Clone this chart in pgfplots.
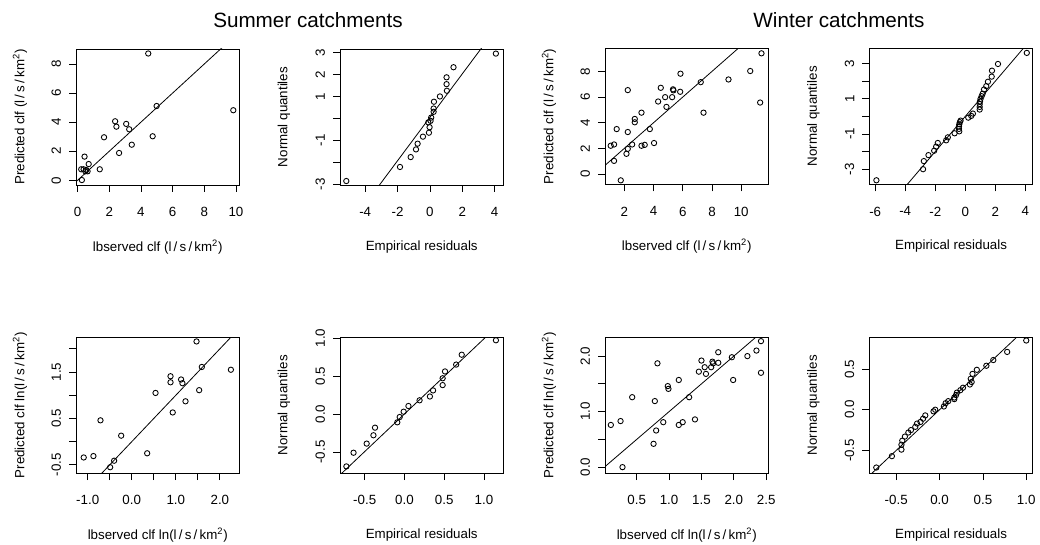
\documentclass[border=0pt]{standalone}
\usepackage{fontspec}
\setmainfont{Liberation Sans}
\usepackage{pgfplots}
\pgfplotsset{compat=1.18}
\pgfplotsset{
 rpanel/.style={
  scale only axis, width=122.6pt, height=102pt,
  anchor=south west,
  tick align=outside, xtick pos=bottom, ytick pos=left,
  major tick length=5.25pt,
  axis line style={line width=0.6pt},
  every tick/.style={line width=0.6pt, black},
  font=\fontsize{10}{12}\selectfont,
  ticklabel style={font=\fontsize{10}{12}\selectfont},
  yticklabel style={rotate=90, anchor=south},
  xticklabel style={anchor=north},
  xticklabel shift=8pt,
  yticklabel shift=2.5pt,
  xlabel style={at={(axis description cs:0.5,-0.454)}, anchor=center},
  ylabel style={at={(axis description cs:-0.3426,0.5)}, anchor=center},
 },
 pts/.style={only marks, mark=o, mark size=2pt, mark options={line width=0.65pt, solid}, black},
 refl/.style={no marks, black, line width=0.6pt},
}
\begin{document}
\begin{tikzpicture}
\path[use as bounding box] (0,0) rectangle (780pt,408.75pt);
\node[font=\fontsize{15.5}{18}\selectfont] at (231pt,393.75pt) {Summer catchments};
\node[font=\fontsize{15.5}{18}\selectfont] at (629.25pt,393.75pt) {Winter catchments};
% P1
\begin{axis}[rpanel, at={(57pt,270pt)},
 xmin=-0.1, xmax=10.22, ymin=-0.32, ymax=9.03,
 xtick={0,2,4,6,8,10}, xticklabels={0,2,4,6,8,10},
 ytick={0,2,4,6,8}, yticklabels={0,2,4,6,8},
 xlabel={lbserved clf (l\,/\,s\,/\,km\textsuperscript{2})},
 ylabel={Predicted clf (l\,/\,s\,/\,km\textsuperscript{2})}]
\addplot[pts] coordinates {(4.46,8.72)(9.83,4.82)(4.99,5.11)(2.37,4.06)(2.45,3.69)(3.07,3.88)(3.26,3.51)(1.67,2.96)(4.74,3.03)(3.42,2.45)(2.62,1.88)(0.44,1.63)(0.70,1.12)(1.40,0.76)(0.23,0.76)(0.38,0.76)(0.49,0.62)(0.63,0.62)(0.55,0.71)(0.27,0.02)};
\addplot[refl] coordinates {(-20,-20)(20,20)};
\end{axis}
% P2
\begin{axis}[rpanel, at={(255pt,270pt)},
 xmin=-5.56, xmax=4.55, ymin=-3.03, ymax=3.16,
 xtick={-4,-2,0,2,4}, xticklabels={-4,-2,0,2,4},
 ytick={-3,-2,-1,0,1,2,3}, yticklabels={-3,,-1,,1,2,3},
 xlabel={Empirical residuals}, ylabel={Normal quantiles}]
\addplot[pts] coordinates {(-5.17,-2.85)(-1.85,-2.21)(-1.19,-1.76)(-0.86,-1.41)(-0.76,-1.15)(-0.43,-0.83)(-0.06,-0.65)(-0.02,-0.40)(-0.10,-0.18)(0.04,-0.11)(0.08,0.04)(0.23,0.30)(0.23,0.45)(0.25,0.76)(0.62,1.00)(1.05,1.26)(1.03,1.56)(1.03,1.87)(1.46,2.33)(4.08,2.95)};
\addplot[refl] coordinates {(-20,-19.7)(20,19.8)};
\end{axis}
% P3
\begin{axis}[rpanel, at={(453.75pt,270.5pt)},
 xmin=0.67, xmax=11.87, ymin=-0.81, ymax=9.80,
 xtick={2,4,6,8,10}, xticklabels={2,4,6,8,10},
 ytick={0,2,4,6,8}, yticklabels={0,2,4,6,8},
 xlabel={lbserved clf (l\,/\,s\,/\,km\textsuperscript{2})},
 ylabel={Predicted clf (l\,/\,s\,/\,km\textsuperscript{2})}]
\addplot[pts] coordinates {(11.39,9.41)(10.62,8.03)(9.13,7.37)(7.23,7.16)(5.84,7.82)(11.30,5.57)(7.42,4.78)(4.49,6.72)(5.33,6.60)(5.36,6.52)(5.82,6.41)(4.79,5.99)(5.27,5.99)(4.31,5.65)(4.88,5.23)(2.23,6.54)(3.17,4.78)(2.71,4.29)(2.71,4.03)(3.74,3.50)(1.47,3.50)(2.23,3.27)(4.03,2.41)(3.17,2.20)(3.39,2.27)(2.53,2.30)(2.23,1.96)(2.14,1.57)(1.06,2.20)(1.29,2.30)(1.29,1.02)(1.75,-0.50)};
\addplot[refl] coordinates {(-20,-20)(20,20)};
\end{axis}
% P4
\begin{axis}[rpanel, at={(652pt,270.5pt)},
 xmin=-6.39, xmax=4.50, ymin=-3.86, ymax=3.87,
 xtick={-6,-4,-2,0,2,4}, xticklabels={-6,-4,-2,0,2,4},
 ytick={-3,-2,-1,0,1,2,3}, yticklabels={-3,,-1,,1,,3},
 xlabel={Empirical residuals}, ylabel={Normal quantiles}]
\addplot[pts] coordinates {(-5.92,-3.63)(4.10,3.61)(2.18,2.98)(1.78,2.60)(1.76,2.26)(1.51,1.97)(1.40,1.72)(1.25,1.53)(1.16,1.29)(1.09,1.15)(1.02,1.00)(0.98,0.85)(0.96,0.70)(0.96,0.54)(0.96,0.39)(0.51,0.16)(0.40,0.03)(0.20,-0.07)(-0.31,-0.24)(-0.36,-0.33)(-0.40,-0.45)(-0.42,-0.58)(-0.42,-0.71)(-0.40,-0.85)(-0.71,-0.96)(-1.16,-1.19)(-1.27,-1.36)(-1.83,-1.51)(-1.94,-1.72)(-2.07,-1.95)(-2.45,-2.20)(-2.76,-2.54)(-2.81,-3.00)};
\addplot[refl] coordinates {(-20,-20)(20,20)};
\end{axis}
% P5
\begin{axis}[rpanel, at={(57pt,53.8pt)},
 xmin=-1.265, xmax=2.445, ymin=-0.68, ymax=2.25,
 xtick={-1,-0.5,0,0.5,1,1.5,2}, xticklabels={-1.0,,0.0,,1.0,,2.0},
 ytick={-0.5,0,0.5,1,1.5,2}, yticklabels={-0.5,,0.5,,1.5,},
 xlabel={lbserved clf ln(l\,/\,s\,/\,km\textsuperscript{2})},
 ylabel={Predicted clf ln(l\,/\,s\,/\,km\textsuperscript{2})}]
\addplot[pts] coordinates {(1.47,2.16)(2.25,1.55)(1.59,1.61)(0.88,1.41)(0.88,1.28)(1.12,1.34)(1.15,1.26)(1.53,1.11)(0.54,1.05)(1.22,0.87)(0.93,0.63)(-0.71,0.46)(-0.24,0.13)(0.35,-0.25)(-1.09,-0.34)(-0.87,-0.31)(-0.40,-0.41)(-0.49,-0.55)};
\addplot[refl] coordinates {(-20,-20)(20,20)};
\end{axis}
% P6
\begin{axis}[rpanel, at={(255pt,53.8pt)},
 xmin=-0.81, xmax=1.245, ymin=-0.78, ymax=1.01,
 xtick={-0.5,0,0.5,1}, xticklabels={-0.5,0.0,0.5,1.0},
 ytick={-0.5,0,0.5,1}, yticklabels={-0.5,0.0,0.5,1.0},
 xlabel={Empirical residuals}, ylabel={Normal quantiles}]
\addplot[pts] coordinates {(1.15,0.97)(0.72,0.78)(0.65,0.65)(0.51,0.56)(0.48,0.47)(0.48,0.38)(0.36,0.31)(0.32,0.23)(0.19,0.18)(0.05,0.105)(-0.01,0.03)(-0.06,-0.04)(-0.09,-0.11)(-0.37,-0.18)(-0.39,-0.28)(-0.475,-0.39)(-0.64,-0.51)(-0.73,-0.69)};
\addplot[refl] coordinates {(-20,-19.8)(20,19.8)};
\end{axis}
% P7
\begin{axis}[rpanel, at={(453.75pt,53.8pt)},
 xmin=0.01, xmax=2.536, ymin=-0.11, ymax=2.34,
 xtick={0.5,1,1.5,2,2.5}, xticklabels={0.5,1.0,1.5,2.0,2.5},
 ytick={0,0.5,1,1.5,2}, yticklabels={0.0,,1.0,,2.0},
 xlabel={lbserved clf ln(l\,/\,s\,/\,km\textsuperscript{2})},
 ylabel={Predicted clf ln(l\,/\,s\,/\,km\textsuperscript{2})}]
\addplot[pts] coordinates {(2.42,2.27)(2.35,2.10)(2.21,2.00)(1.97,1.98)(1.76,2.07)(1.76,1.88)(1.67,1.90)(1.68,1.87)(1.65,1.80)(1.55,1.80)(1.50,1.92)(1.46,1.72)(1.57,1.68)(2.42,1.70)(1.99,1.57)(1.15,1.57)(0.82,1.87)(0.98,1.46)(0.99,1.41)(0.43,1.26)(1.31,1.26)(0.78,1.19)(0.25,0.83)(0.10,0.76)(0.91,0.81)(1.21,0.81)(1.15,0.76)(1.40,0.86)(0.80,0.66)(0.76,0.42)(0.28,0.00)};
\addplot[refl] coordinates {(-20,-20)(20,20)};
\end{axis}
% P8
\begin{axis}[rpanel, at={(652pt,53.8pt)},
 xmin=-0.81, xmax=1.076, ymin=-0.78, ymax=0.89,
 xtick={-0.5,0,0.5,1}, xticklabels={-0.5,0.0,0.5,1.0},
 ytick={-0.5,0,0.5}, yticklabels={-0.5,0.0,0.5},
 xlabel={Empirical residuals}, ylabel={Normal quantiles}]
\addplot[pts] coordinates {(1.00,0.85)(0.78,0.71)(0.62,0.61)(0.54,0.54)(0.43,0.49)(0.38,0.44)(0.36,0.38)(0.37,0.34)(0.35,0.31)(0.27,0.27)(0.24,0.24)(0.20,0.21)(0.19,0.18)(0.17,0.15)(0.17,0.13)(0.10,0.105)(0.07,0.08)(0.05,0.04)(-0.05,0.00)(-0.07,-0.02)(-0.165,-0.07)(-0.19,-0.11)(-0.22,-0.15)(-0.26,-0.17)(-0.28,-0.21)(-0.33,-0.25)(-0.36,-0.28)(-0.40,-0.33)(-0.43,-0.38)(-0.44,-0.43)(-0.44,-0.49)(-0.55,-0.57)(-0.73,-0.71)};
\addplot[refl] coordinates {(-20,-20)(20,20)};
\end{axis}
\end{tikzpicture}
\end{document}
